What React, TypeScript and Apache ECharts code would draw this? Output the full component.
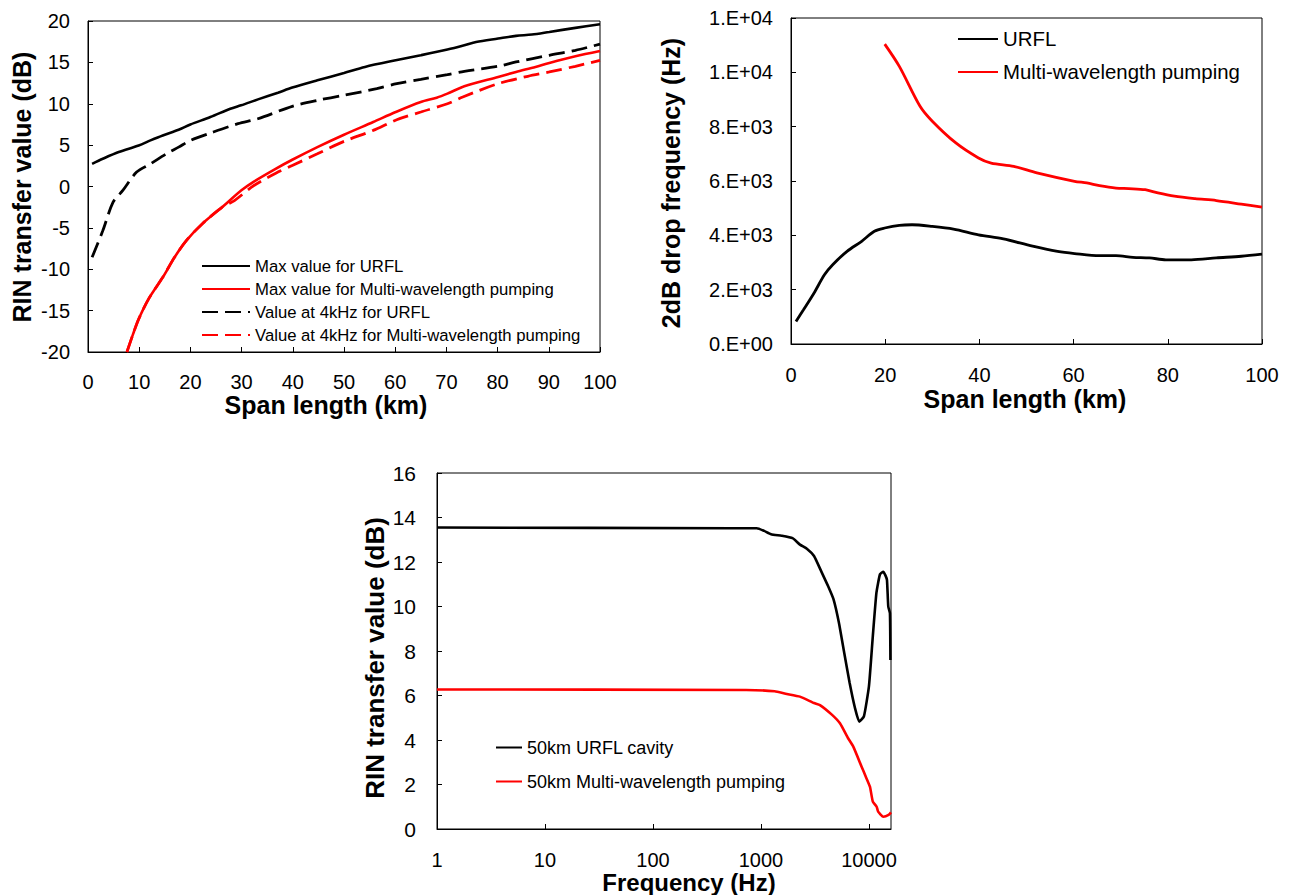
import React, { useEffect, useRef } from "react";
import * as echarts from "echarts";

const FONT = "'Liberation Sans', Arial, Helvetica, sans-serif";

// ---------- Chart A: RIN transfer value vs span length ----------
const aNames = [
  "Max value for URFL",
  "Max value for Multi-wavelength pumping",
  "Value at 4kHz for URFL",
  "Value at 4kHz for Multi-wavelength pumping",
];
const maxUrflKm = [0.8, 2.9, 6, 9.9, 12.2, 14.6, 17.7, 20, 23.9, 27.8, 29.9, 33.2, 37.1, 39.9, 44.8, 50, 54.1, 60.1, 65, 70.2, 73.5, 75.8, 80.1, 83.6, 86.7, 90.1, 95.2, 100];
const maxUrflDb = [2.74, 3.35, 4.16, 4.96, 5.57, 6.17, 6.86, 7.5, 8.39, 9.4, 9.81, 10.53, 11.34, 11.95, 12.83, 13.72, 14.45, 15.25, 15.86, 16.55, 17.07, 17.47, 17.88, 18.2, 18.36, 18.68, 19.17, 19.61];
const maxMwpKm = [7.6, 8.8, 9.9, 11.9, 14.6, 16.9, 19.2, 22.3, 26.2, 29.9, 32.4, 36.3, 39.9, 44.8, 50, 55.7, 60.1, 65, 68.1, 70.2, 73.5, 80.1, 83.6, 87.4, 90.1, 95.2, 100];
const maxMwpDb = [-20, -17.84, -16.02, -13.52, -10.98, -8.56, -6.54, -4.52, -2.5, -0.48, 0.6, 2.02, 3.23, 4.76, 6.26, 7.79, 9.0, 10.21, 10.73, 11.22, 12.11, 13.24, 13.84, 14.45, 14.93, 15.74, 16.38];
const k4UrflKm = [0.8, 2.9, 4.9, 6.8, 9.5, 12.2, 15.3, 17.7, 20, 23.9, 29.3, 33.2, 39.9, 44.8, 50, 56.4, 60.3, 65, 70.2, 73.5, 80.1, 83.6, 90.1, 95.2, 100];
const k4UrflDb = [-8.56, -5.33, -1.9, -0.48, 1.74, 2.74, 3.95, 4.76, 5.57, 6.46, 7.59, 8.19, 9.69, 10.41, 11.02, 11.82, 12.43, 12.95, 13.52, 13.92, 14.53, 15.05, 15.86, 16.46, 17.2];
const k4MwpKm = [7.6, 8.8, 9.9, 11.9, 14.6, 16.9, 19.2, 22.3, 26.2, 28.6, 32.4, 37.1, 39.9, 44.8, 50, 55.7, 60.3, 65, 70.2, 73.2, 80.1, 85.9, 90.1, 95.2, 100];
const k4MwpDb = [-20, -17.84, -16.02, -13.52, -10.98, -8.56, -6.54, -4.52, -2.5, -1.7, 0.12, 1.74, 2.54, 3.95, 5.45, 6.78, 8.07, 9.0, 10.0, 10.82, 12.43, 13.32, 13.84, 14.53, 15.25];

// ---------- Chart B: 2dB drop frequency vs span length ----------
const bNames = ["URFL", "Multi-wavelength pumping"];
const bYTickLabels = ["0.E+00", "2.E+03", "4.E+03", "6.E+03", "8.E+03", "1.E+04", "1.E+04"];
const bUrflKm = [1.06, 2.65, 4.9, 7.1, 8.85, 11.9, 15, 17.7, 19.9, 23, 25.7, 30, 34.5, 39.8, 45.1, 51.3, 56.6, 60.2, 65.5, 69, 72.6, 76.1, 79.6, 85, 90.3, 95.6, 100];
const bUrflHz = [830, 1260, 1880, 2550, 2920, 3410, 3780, 4150, 4270, 4370, 4390, 4330, 4230, 4020, 3870, 3600, 3410, 3330, 3250, 3250, 3190, 3170, 3100, 3100, 3170, 3230, 3310];
const bMwpKm = [19.9, 23, 27.4, 30, 35, 39.8, 42.5, 47.3, 52.2, 60.2, 62.8, 65.5, 69, 71.7, 75.2, 77.9, 81.4, 85.8, 90.3, 95.6, 100];
const bMwpHz = [11040, 10220, 8750, 8200, 7400, 6850, 6660, 6540, 6300, 5990, 5930, 5830, 5740, 5720, 5680, 5560, 5440, 5350, 5280, 5150, 5040];

// ---------- Chart C: RIN transfer value vs frequency (50 km) ----------
const cNames = ["50km URFL cavity", "50km Multi-wavelength pumping"];
const cUrflHz = [1, 540, 915, 1070, 1240, 1550, 1960, 2296, 2660, 3100, 3600, 4180, 4700, 5270, 5900, 6620, 7420, 8130, 8980, 10000, 10860, 11730, 12650, 13580, 14200, 14680, 15100, 15640, 15800];
const cUrflDb = [13.55, 13.52, 13.52, 13.4, 13.25, 13.18, 13.07, 12.78, 12.6, 12.27, 11.6, 10.92, 10.32, 9.27, 7.92, 6.57, 5.44, 4.82, 5.06, 6.42, 8.67, 10.62, 11.45, 11.56, 11.4, 11.2, 10.0, 9.7, 7.6];
const cMwpHz = [1, 730, 1340, 1690, 2296, 3100, 3516, 4530, 5390, 6390, 7160, 8550, 9330, 10210, 10860, 11780, 12160, 13580, 15200, 16000];
const cMwpDb = [6.27, 6.25, 6.19, 6.08, 5.95, 5.66, 5.57, 5.14, 4.75, 4.09, 3.7, 2.8, 2.36, 1.9, 1.23, 1.0, 0.78, 0.55, 0.63, 0.75];

const zip = (xs: number[], ys: number[]) => xs.map((x, i) => [x, ys[i]]);

const BLACK = "#000000";
const RED = "#ff0000";

function axisBase(fontSize: number, margin: number) {
  return {
    axisLine: { show: true, onZero: false, lineStyle: { color: BLACK, width: 1 } },
    axisTick: { show: true, inside: true, length: 5, lineStyle: { color: BLACK, width: 1 } },
    axisLabel: { color: BLACK, fontSize, fontFamily: FONT, margin },
    splitLine: { show: false },
  };
}

function titleText(text: string, x: number, y: number, size: number, vertical: boolean) {
  return {
    type: "text",
    x,
    y,
    rotation: vertical ? Math.PI / 2 : 0,
    silent: true,
    style: {
      text,
      fill: BLACK,
      fontSize: size,
      fontWeight: "bold",
      fontFamily: FONT,
      align: "center",
      verticalAlign: "middle",
    },
  };
}

export default function App() {
  const ref = useRef<HTMLDivElement>(null);

  useEffect(() => {
    if (!ref.current) return;
    const chart = echarts.init(ref.current, null, { renderer: "svg" });

    const lineSeries = (
      name: string,
      data: number[][],
      color: string,
      idx: number,
      dashed: boolean,
      width: number,
      smooth: number
    ) => ({
      name,
      type: "line",
      xAxisIndex: idx,
      yAxisIndex: idx,
      data,
      symbol: "none",
      showSymbol: false,
      smooth,
      lineStyle: { color, width, type: dashed ? [16, 7] : "solid" },
      itemStyle: { color, opacity: 0 },
      emphasis: { disabled: true },
    });

    const legendBase = {
      orient: "vertical",
      padding: 0,
      itemHeight: 14,
      selectedMode: false,
      itemStyle: { opacity: 0 },
    };

    const option: any = {
      animation: false,
      backgroundColor: "#ffffff",
      grid: [
        { left: 88, top: 21, width: 512, height: 331, show: true, borderColor: BLACK, borderWidth: 1, outerBoundsMode: "none", containLabel: false },
        { left: 791, top: 18, width: 471, height: 326, show: true, borderColor: BLACK, borderWidth: 1, outerBoundsMode: "none", containLabel: false },
        { left: 437, top: 473, width: 454, height: 356, show: true, borderColor: BLACK, borderWidth: 1, outerBoundsMode: "none", containLabel: false },
      ],
      xAxis: [
        { type: "value", gridIndex: 0, min: 0, max: 100, interval: 10, ...axisBase(20, 20) },
        { type: "value", gridIndex: 1, min: 0, max: 100, interval: 20, ...axisBase(20, 21) },
        {
          type: "log",
          logBase: 10,
          gridIndex: 2,
          min: 1,
          max: 16000,
          ...axisBase(20, 21),
          axisLabel: {
            color: BLACK,
            fontSize: 20,
            fontFamily: FONT,
            margin: 21,
            showMaxLabel: false,
            formatter: (v: number) => String(Math.round(v)),
          },
          minorTick: { show: false },
        },
      ],
      yAxis: [
        { type: "value", gridIndex: 0, min: -20, max: 20, interval: 5, ...axisBase(20, 18) },
        {
          type: "value",
          gridIndex: 1,
          min: 0,
          max: 12000,
          interval: 2000,
          ...axisBase(20, 18),
          axisLabel: {
            color: BLACK,
            fontSize: 20,
            fontFamily: FONT,
            margin: 18,
            formatter: (v: number) => bYTickLabels[Math.round(v / 2000)] ?? "",
          },
        },
        { type: "value", gridIndex: 2, min: 0, max: 16, interval: 2, ...axisBase(21, 21) },
      ],
      legend: [
        {
          ...legendBase,
          data: aNames,
          left: 201,
          top: 257,
          itemWidth: 48,
          itemGap: 5,
          textStyle: { color: BLACK, fontSize: 16.7, lineHeight: 18, fontFamily: FONT },
        },
        {
          ...legendBase,
          data: bNames,
          left: 957,
          top: 28,
          itemWidth: 40,
          itemGap: 11,
          textStyle: { color: BLACK, fontSize: 20.4, lineHeight: 22, fontFamily: FONT },
        },
        {
          ...legendBase,
          data: cNames,
          left: 495,
          top: 738,
          itemWidth: 26,
          itemGap: 15,
          textStyle: { color: BLACK, fontSize: 18, lineHeight: 19, fontFamily: FONT },
        },
      ],
      series: [
        lineSeries(aNames[0], zip(maxUrflKm, maxUrflDb), BLACK, 0, false, 2.6, 0.3),
        lineSeries(aNames[1], zip(maxMwpKm, maxMwpDb), RED, 0, false, 2.6, 0.3),
        lineSeries(aNames[2], zip(k4UrflKm, k4UrflDb), BLACK, 0, true, 2.8, 0.3),
        lineSeries(aNames[3], zip(k4MwpKm, k4MwpDb), RED, 0, true, 2.8, 0.3),
        lineSeries(bNames[0], zip(bUrflKm, bUrflHz), BLACK, 1, false, 2.8, 0.3),
        lineSeries(bNames[1], zip(bMwpKm, bMwpHz), RED, 1, false, 2.8, 0.3),
        lineSeries(cNames[0], zip(cUrflHz, cUrflDb), BLACK, 2, false, 2.6, 0.15),
        lineSeries(cNames[1], zip(cMwpHz, cMwpDb), RED, 2, false, 2.6, 0.15),
      ],
      graphic: [
        titleText("RIN transfer value (dB)", 22, 187, 25, true),
        titleText("Span length (km)", 326, 405, 25, false),
        titleText("2dB drop frequency (Hz)", 671, 183, 25, true),
        titleText("Span length (km)", 1025, 399, 25, false),
        titleText("RIN transfer value (dB)", 375, 658, 26, true),
        titleText("Frequency (Hz)", 689, 882, 24, false),
      ],
    };

    chart.setOption(option);
    return () => {
      chart.dispose();
    };
  }, []);

  return (
    <div
      ref={ref}
      style={{ position: "fixed", left: 0, top: 0, width: 1295, height: 895, background: "#ffffff" }}
    />
  );
}
